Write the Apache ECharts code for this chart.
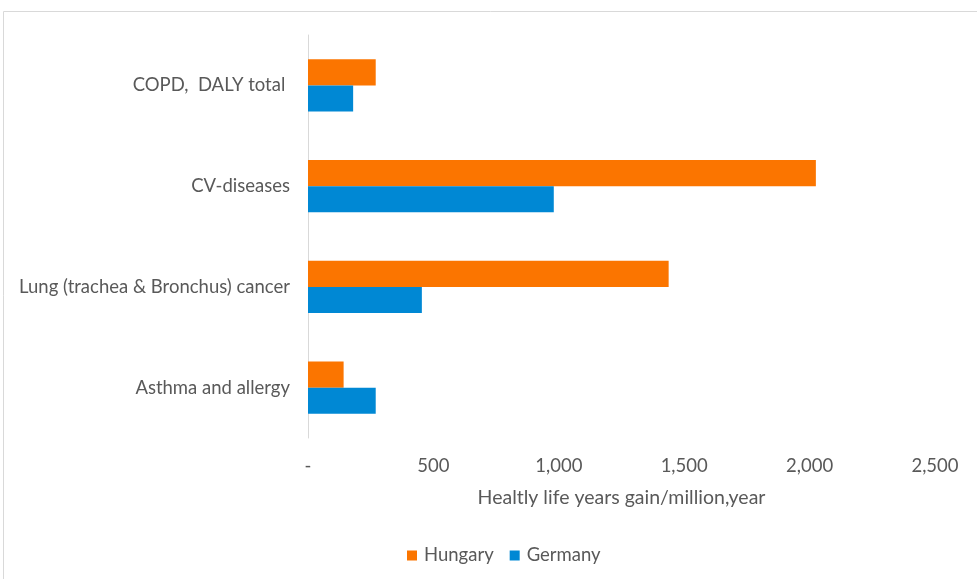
<!DOCTYPE html>
<html>
<head>
<meta charset="utf-8">
<script src="https://cdn.jsdelivr.net/npm/echarts@6/dist/echarts.min.js"></script>
<style>
html,body{margin:0;padding:0;background:#fff;}
#chart{width:977px;height:579px;}
</style>
</head>
<body>
<div id="chart"></div>
<script>
// Categories listed bottom to top along the vertical axis
const categories = ['Asthma and allergy', 'Lung (trachea & Bronchus) cancer', 'CV-diseases', 'COPD,  DALY total '];
const hungary = [142, 1438, 2025, 270];
const germany = [270, 454, 980, 180];
const xTicks = [0, 500, 1000, 1500, 2000, 2500];

const textColor = '#595959';
const font = 'Lato, "Open Sans", sans-serif';

const chart = echarts.init(document.getElementById('chart'));
chart.setOption({
  animation: false,
  textStyle: { fontFamily: font },
  graphic: [{
    type: 'rect',
    shape: { x: 3.5, y: 11.5, width: 990, height: 600 },
    style: { fill: 'none', stroke: '#d9d9d9', lineWidth: 1 },
    silent: true
  }],
  grid: { left: 308, right: 42, top: 35, bottom: 141, containLabel: false },
  legend: {
    data: ['Hungary', 'Germany'],
    bottom: 9,
    left: 402,
    itemWidth: 10,
    itemHeight: 10,
    itemGap: 16,
    icon: 'rect',
    textStyle: { color: textColor, fontSize: 18.5, fontFamily: font, padding: [0, 0, 0, 2] }
  },
  xAxis: {
    type: 'value',
    min: xTicks[0],
    max: xTicks[xTicks.length - 1],
    interval: 500,
    name: 'Healtly life years gain/million,year',
    nameLocation: 'middle',
    nameGap: 50,
    nameTextStyle: { color: textColor, fontSize: 19.5, fontFamily: font },
    axisLine: { show: false },
    axisTick: { show: false },
    splitLine: { show: false },
    axisLabel: {
      color: textColor,
      fontSize: 18.5,
      margin: 19,
      formatter: v => v === 0 ? '-' : v.toLocaleString('en-US')
    }
  },
  yAxis: {
    type: 'category',
    data: categories,
    axisLine: { show: true, lineStyle: { color: '#d9d9d9', width: 1 } },
    axisTick: { show: false },
    axisLabel: { color: textColor, fontSize: 18.5, margin: 18 }
  },
  series: [
    {
      name: 'Hungary',
      type: 'bar',
      data: hungary,
      itemStyle: { color: '#fb7500' },
      barGap: '0%',
      barCategoryGap: '48%'
    },
    {
      name: 'Germany',
      type: 'bar',
      data: germany,
      itemStyle: { color: '#0088d4' },
      barGap: '0%',
      barCategoryGap: '48%'
    }
  ]
});
</script>
</body>
</html>
